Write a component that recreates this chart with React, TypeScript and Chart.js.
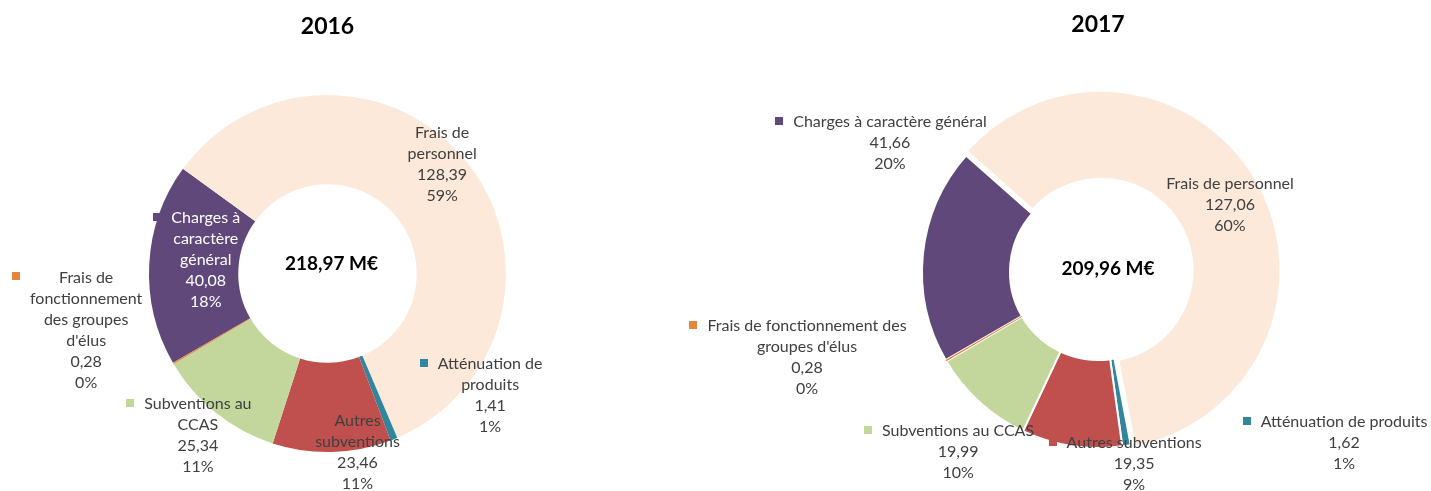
import React, { useEffect, useRef } from 'react';
import { Chart, registerables } from 'chart.js';

Chart.register(...registerables);

// ---------- data ----------
const categories = [
  'Charges à caractère général',
  'Frais de personnel',
  'Atténuation de produits',
  'Autres subventions',
  'Subventions au CCAS',
  "Frais de fonctionnement des groupes d'élus",
];
const sliceColors = ['#60497A', '#FDE9D9', '#31859C', '#C0504D', '#C3D69B', '#E4873D'];

const values2016 = [40.08, 128.39, 1.41, 23.46, 25.34, 0.28];
const percents2016 = [18, 59, 1, 11, 11, 0];
const total2016 = 218.97;

const values2017 = [41.66, 127.06, 1.62, 19.35, 19.99, 0.28];
const percents2017 = [20, 60, 1, 9, 10, 0];
const total2017 = 209.96;

// how each category name is broken into lines in each chart's labels
const wrap2016 = [
  ['Charges à', 'caractère', 'général'],
  ['Frais de', 'personnel'],
  ['Atténuation de', 'produits'],
  ['Autres', 'subventions'],
  ['Subventions au', 'CCAS'],
  ['Frais de', 'fonctionnement', 'des groupes', "d'élus"],
];
const wrap2017 = [
  ['Charges à caractère général'],
  ['Frais de personnel'],
  ['Atténuation de produits'],
  ['Autres subventions'],
  ['Subventions au CCAS'],
  ['Frais de fonctionnement des', "groupes d'élus"],
];

// label anchors relative to the doughnut centre, in units of outer radius (layout only)
const anchors2016 = [
  [-0.682, -0.313],
  [0.642, -0.788],
  [0.911, 0.508],
  [0.168, 0.827],
  [-0.726, 0.732],
  [-1.352, 0.022],
];
const anchors2017 = [
  [-1.182, -0.852],
  [0.75, -0.5],
  [1.398, 0.852],
  [0.205, 0.972],
  [-0.795, 0.903],
  [-1.653, 0.307],
];

const fmt = (v: number) => v.toFixed(2).replace('.', ',');

const sliceLabels = {
  id: 'sliceLabels',
  afterDatasetsDraw(chart: any, _args: any, opts: any) {
    const meta = chart.getDatasetMeta(0);
    const arc = meta.data[0];
    if (!arc) return;
    const { x, y, outerRadius } = arc.getProps(['x', 'y', 'outerRadius'], true);
    const ctx = chart.ctx;
    ctx.save();
    ctx.textAlign = 'center';
    ctx.textBaseline = 'middle';
    ctx.font = `${opts.fontSize}px Lato`;
    opts.items.forEach((it: any) => {
      const lines = [...it.lines, it.value, it.percent];
      const cx = x + it.anchor[0] * outerRadius;
      const cy = y + it.anchor[1] * outerRadius;
      const maxW = Math.max(...lines.map((l: string) => ctx.measureText(l).width));
      ctx.fillStyle = it.keyColor;
      ctx.fillRect(Math.round(cx - maxW / 2 - 18), Math.round(cy - 5), 8, 8);
      ctx.fillStyle = it.textColor;
      lines.forEach((l: string, k: number) => ctx.fillText(l, cx, cy + k * opts.lineHeight));
    });
    ctx.font = `bold ${opts.centerSize}px Lato`;
    ctx.fillStyle = '#000';
    ctx.fillText(opts.centerText, x + opts.centerOffset[0], y + opts.centerOffset[1]);
    ctx.restore();
  },
};

function buildItems(values: number[], percents: number[], wrap: string[][], anchors: number[][], textColors: string[]) {
  return values.map((v, i) => ({
    lines: wrap[i],
    value: fmt(v),
    percent: `${percents[i]}%`,
    anchor: anchors[i],
    keyColor: sliceColors[i],
    textColor: textColors[i],
  }));
}

function Doughnut(props: {
  width: number;
  height: number;
  left: number;
  title: string;
  values: number[];
  percents: number[];
  total: number;
  wrap: string[][];
  anchors: number[][];
  textColors: string[];
  offsets: number[];
  borderWidths: number[];
  layoutPadding: any;
  titlePadding: any;
  centerOffset: number[];
}) {
  const ref = useRef<HTMLCanvasElement>(null);
  useEffect(() => {
    if (!ref.current) return;
    const chart = new Chart(ref.current, {
      type: 'doughnut',
      data: {
        labels: categories,
        datasets: [
          {
            data: props.values,
            backgroundColor: sliceColors,
            borderColor: '#ffffff',
            borderWidth: props.borderWidths,
            hoverBorderWidth: 0,
            offset: props.offsets,
            hoverOffset: 0,
          },
        ],
      },
      options: {
        responsive: false,
        animation: false,
        rotation: 240,
        cutout: '50%',
        layout: { padding: props.layoutPadding },
        events: [],
        plugins: {
          legend: { display: false },
          tooltip: { enabled: false },
          title: {
            display: true,
            text: props.title,
            color: '#000',
            font: { family: 'Lato', size: 23, weight: 'bold', lineHeight: 1.2 },
            padding: props.titlePadding,
          },
          sliceLabels: {
            fontSize: 16,
            lineHeight: 21,
            centerSize: 19,
            centerText: `${fmt(props.total)} M€`,
            centerOffset: props.centerOffset,
            items: buildItems(props.values, props.percents, props.wrap, props.anchors, props.textColors),
          },
        },
      } as any,
      plugins: [sliceLabels as any],
    });
    return () => chart.destroy();
  }, []);
  return (
    <canvas
      ref={ref}
      width={props.width}
      height={props.height}
      style={{ position: 'absolute', left: props.left, top: 0, width: props.width, height: props.height }}
    />
  );
}

export default function App() {
  const dark = '#404040';
  return (
    <div style={{ position: 'absolute', left: 0, top: 0, width: 1431, height: 491, background: '#fff' }}>
      <Doughnut
        width={655}
        height={491}
        left={0}
        title="2016"
        values={values2016}
        percents={percents2016}
        total={total2016}
        wrap={wrap2016}
        anchors={anchors2016}
        textColors={['#ffffff', dark, dark, dark, dark, dark]}
        offsets={[0, 0, 0, 0, 0, 0]}
        borderWidths={[0, 0, 0, 0, 0, 0]}
        layoutPadding={{ top: 0, bottom: 39, left: 0, right: 0 }}
        titlePadding={{ top: 12.7, bottom: 54.7 }}
        centerOffset={[4, -10]}
      />
      <Doughnut
        width={776}
        height={491}
        left={655}
        title="2017"
        values={values2017}
        percents={percents2017}
        total={total2017}
        wrap={wrap2017}
        anchors={anchors2017}
        textColors={[dark, dark, dark, dark, dark, dark]}
        offsets={[0, 14, 0, 0, 0, 0]}
        borderWidths={[2, 2, 2, 2, 2, 0]}
        layoutPadding={{ top: 0, bottom: 35, left: 110, right: 0 }}
        titlePadding={{ top: 11.2, bottom: 49.2 }}
        centerOffset={[10, -3]}
      />
    </div>
  );
}
